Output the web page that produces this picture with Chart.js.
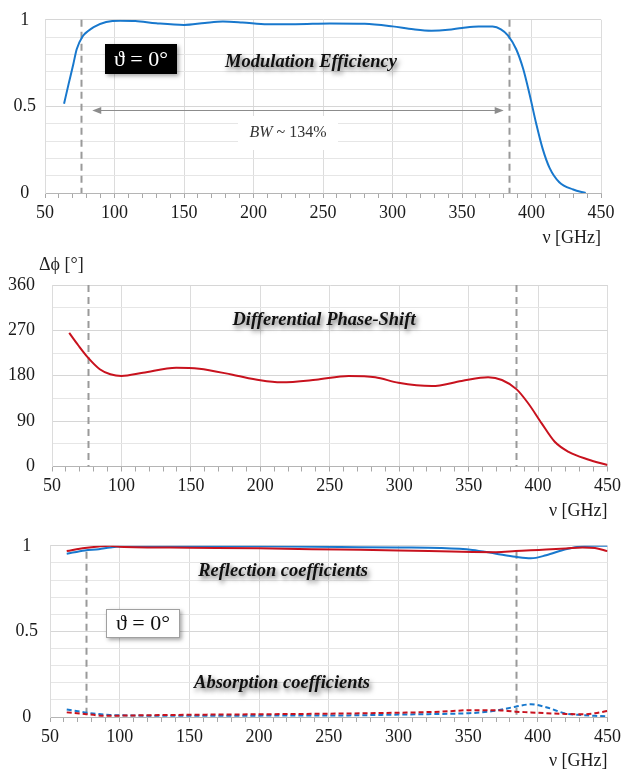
<!DOCTYPE html>
<html>
<head>
<meta charset="utf-8">
<script src="https://cdn.jsdelivr.net/npm/chart.js@4/dist/chart.umd.min.js"></script>
<style>
  html, body { margin: 0; padding: 0; background: #fff; }
  .panel { position: absolute; left: 0; width: 625px; }
</style>
</head>
<body>
<div class="panel" style="top:0;height:250px"><canvas id="effChart"></canvas></div>
<div class="panel" style="top:250px;height:273px"><canvas id="phaseChart"></canvas></div>
<div class="panel" style="top:523px;height:250px"><canvas id="coefChart"></canvas></div>
<script>
// modulation efficiency (top panel)
const effFreq = [63.7, 67, 70.4, 72.8, 77, 81, 85, 94, 104, 115, 130, 150, 165, 178, 192, 210, 230, 255, 280, 300,
  315, 328, 340, 350, 362, 372, 378, 383, 389, 394, 398.6, 403.4, 408, 413, 420, 430, 439];
const effValues = [0.515, 0.63, 0.745, 0.83, 0.904, 0.935, 0.958, 0.987, 0.995, 0.993, 0.98, 0.97, 0.982, 0.99, 0.985,
  0.975, 0.975, 0.979, 0.977, 0.962, 0.945, 0.937, 0.942, 0.953, 0.962, 0.961, 0.945, 0.91, 0.83, 0.717, 0.57, 0.40,
  0.256, 0.145, 0.062, 0.02, 0.0];

// differential phase shift (middle panel)
const phaseFreq = [62.4, 69, 75.6, 84.4, 92, 100, 115.5, 139.5, 156, 180, 200, 215, 240, 263.6, 282.8, 299.5, 323.5,
  345, 364, 374, 384.6, 393, 402.6, 412, 422, 436, 450];
const phaseValues = [265, 240, 217, 193, 183, 179.5, 186, 196, 194, 182, 171, 167, 172, 179.5, 177, 166, 159.6, 169.6,
  177, 171.6, 153, 125, 85.6, 49, 29, 14, 3];

// reflection / absorption coefficients (bottom panel)
const coefFreq = [62, 75, 85, 93, 100, 150, 200, 258, 300, 330, 353, 370, 384, 395, 406, 420, 432, 441, 450];
const reflRed = [0.969, 0.987, 0.996, 1.0, 0.995, 0.989, 0.985, 0.978, 0.973, 0.968, 0.964, 0.963, 0.969, 0.974, 0.978,
  0.984, 0.99, 0.987, 0.969];
const reflBlue = [0.954, 0.973, 0.98, 0.99, 0.996, 0.998, 0.997, 0.993, 0.99, 0.987, 0.976, 0.954, 0.936, 0.927, 0.945,
  0.98, 0.998, 1.0, 1.0];
const absRed = [0.027, 0.018, 0.009, 0.007, 0.008, 0.013, 0.016, 0.02, 0.025, 0.031, 0.04, 0.04, 0.031, 0.027, 0.022,
  0.018, 0.016, 0.022, 0.036];
const absBlue = [0.044, 0.027, 0.017, 0.012, 0.01, 0.007, 0.008, 0.009, 0.014, 0.018, 0.023, 0.037, 0.06, 0.074, 0.057,
  0.02, 0.011, 0.007, 0.003];

// band edges and bandwidth arrow
const bandEdges = [76, 384];
const bwArrow = { from: 84, to: 380, at: 0.48 };

const SERIF = "'Liberation Serif', 'Times New Roman', serif";
const RED = "rgb(200, 18, 30)";
const BLUE = "rgb(24, 120, 205)";

const points = (xs, ys) => xs.map((x, i) => ({ x: x, y: ys[i] }));

const overlays = {
  id: "overlays",
  beforeDatasetsDraw(chart, args, opts) {
    const { ctx, chartArea: a, scales: { x, y } } = chart;
    ctx.save();
    ctx.strokeStyle = "#9a9a9a";
    ctx.lineWidth = 2;
    ctx.setLineDash([7, 5]);
    bandEdges.forEach((f) => {
      const px = Math.round(x.getPixelForValue(f)) + 0.5;
      ctx.beginPath();
      ctx.moveTo(px, a.top + (opts.edgeInset || 0));
      ctx.lineTo(px, a.bottom);
      ctx.stroke();
    });
    ctx.setLineDash([]);

    if (opts.arrow) {
      const x1 = x.getPixelForValue(bwArrow.from);
      const x2 = x.getPixelForValue(bwArrow.to);
      const py = Math.round(y.getPixelForValue(bwArrow.at)) + 0.5;
      ctx.strokeStyle = "#8c8c8c";
      ctx.fillStyle = "#8c8c8c";
      ctx.lineWidth = 1;
      ctx.beginPath();
      ctx.moveTo(x1 + 4, py);
      ctx.lineTo(x2 - 4, py);
      ctx.stroke();
      [[x1, 1], [x2, -1]].forEach(([tip, dir]) => {
        ctx.beginPath();
        ctx.moveTo(tip, py);
        ctx.lineTo(tip + dir * 9, py - 3.5);
        ctx.lineTo(tip + dir * 9, py + 3.5);
        ctx.closePath();
        ctx.fill();
      });
    }

    if (opts.bwLabel) {
      const b = opts.bwLabel;
      ctx.fillStyle = "#fff";
      ctx.fillRect(b.x - 50, b.y - 17, 100, 34);
      ctx.fillStyle = "#333";
      ctx.textBaseline = "middle";
      ctx.font = "italic 16px " + SERIF;
      const w1 = ctx.measureText("BW").width;
      ctx.font = "16px " + SERIF;
      const w2 = ctx.measureText(" ~ 134%").width;
      let sx = b.x - (w1 + w2) / 2;
      ctx.textAlign = "left";
      ctx.font = "italic 16px " + SERIF;
      ctx.fillText("BW", sx, b.y);
      ctx.font = "16px " + SERIF;
      ctx.fillText(" ~ 134%", sx + w1, b.y);
    }
    ctx.restore();
  },
  afterDatasetsDraw(chart, args, opts) {
    const { ctx } = chart;
    ctx.save();
    ctx.textAlign = "center";
    ctx.textBaseline = "middle";
    (opts.titles || []).forEach((t) => {
      ctx.font = "bold italic 18.5px " + SERIF;
      ctx.shadowColor = "rgba(0,0,0,0.6)";
      ctx.shadowBlur = 5;
      ctx.shadowOffsetX = 2;
      ctx.shadowOffsetY = 3;
      ctx.fillStyle = "#111";
      ctx.fillText(t.text, t.x, t.y);
    });
    ctx.shadowColor = "transparent";

    if (opts.angleBox) {
      const b = opts.angleBox;
      ctx.shadowColor = "rgba(0,0,0,0.35)";
      ctx.shadowBlur = 4;
      ctx.shadowOffsetX = 2;
      ctx.shadowOffsetY = 2;
      ctx.fillStyle = b.dark ? "#000" : "#fff";
      ctx.fillRect(b.x, b.y, b.w, b.h);
      ctx.shadowColor = "transparent";
      if (!b.dark) {
        ctx.strokeStyle = "#a0a0a0";
        ctx.lineWidth = 1;
        ctx.strokeRect(b.x + 0.5, b.y + 0.5, b.w - 1, b.h - 1);
      }
      ctx.fillStyle = b.dark ? "#fff" : "#111";
      ctx.font = "22px " + SERIF;
      ctx.fillText("\u03D1 = 0\u00B0", b.x + b.w / 2, b.y + b.h / 2 + 1);
    }

    if (opts.yLabel) {
      ctx.textAlign = "left";
      ctx.font = "18px " + SERIF;
      ctx.fillStyle = "#222";
      ctx.fillText(opts.yLabel.text, opts.yLabel.x, opts.yLabel.y);
    }
    ctx.restore();
  },
};

function xScale(axisHeight) {
  return {
    type: "linear",
    min: 50,
    max: 450,
    afterFit: (s) => { s.height = axisHeight; },
    ticks: {
      stepSize: 10,
      autoSkip: false,
      maxRotation: 0,
      padding: 4,
      color: "#1a1a1a",
      font: { family: SERIF, size: 18 },
      callback: (v) => (v % 50 === 0 ? String(v) : ""),
    },
    grid: {
      color: (c) => (c.tick && c.tick.value % 50 === 0 ? "#dcdcdc" : "transparent"),
      tickColor: "#a8a8a8",
      tickLength: 5,
    },
    border: { color: "#b5b5b5" },
    title: {
      display: true,
      text: "\u03BD [GHz]",
      align: "end",
      color: "#1a1a1a",
      font: { family: SERIF, size: 18 },
      padding: { top: 0, bottom: 1 },
    },
  };
}

function yScale(width, max, step, labels, align, pad) {
  return {
    min: 0,
    max: max,
    afterFit: (s) => { s.width = width; },
    ticks: {
      stepSize: step,
      autoSkip: false,
      crossAlign: align,
      padding: pad,
      color: "#1a1a1a",
      font: { family: SERIF, size: 18 },
      callback: (v) => {
        const hit = labels.find((l) => Math.abs(l - v) < 1e-6);
        return hit === undefined ? "" : String(hit);
      },
    },
    grid: {
      drawTicks: false,
      color: (c) => (c.tick && labels.some((l) => Math.abs(l - c.tick.value) < 1e-6) ? "#d6d6d6" : "#e6e6e6"),
    },
    border: { color: "#dcdcdc" },
  };
}

function baseOptions(padding, xs, ys, overlayOpts) {
  return {
    responsive: true,
    maintainAspectRatio: false,
    animation: false,
    layout: { padding: padding },
    elements: { point: { radius: 0 } },
    plugins: {
      legend: { display: false },
      tooltip: { enabled: false },
      overlays: overlayOpts,
    },
    scales: { x: xs, y: ys },
  };
}

const line = (data, color, dash) => ({
  data: data,
  borderColor: color,
  borderWidth: 2,
  borderDash: dash || [],
  cubicInterpolationMode: "monotone",
  fill: false,
});

new Chart(document.getElementById("effChart"), {
  type: "line",
  data: { datasets: [line(points(effFreq, effValues), BLUE)] },
  options: baseOptions(
    { top: 12, right: 24, left: 0, bottom: 0 },
    xScale(57),
    yScale(45, 1, 0.1, [0, 0.5, 1], "center", 9),
    {
      arrow: true,
      bwLabel: { x: 288, y: 133 },
      titles: [{ text: "Modulation Efficiency", x: 311, y: 62 }],
      angleBox: { x: 105, y: 44, w: 72, h: 30, dark: true },
    }
  ),
  plugins: [overlays],
});

new Chart(document.getElementById("phaseChart"), {
  type: "line",
  data: { datasets: [line(points(phaseFreq, phaseValues), RED)] },
  options: baseOptions(
    { top: 35, right: 15.5, left: 0, bottom: 0 },
    xScale(56.5),
    yScale(52, 360, 45, [0, 90, 180, 270, 360], "near", 17),
    {
      titles: [{ text: "Differential Phase-Shift", x: 324, y: 70 }],
      yLabel: { text: "\u0394\u03D5 [\u00B0]", x: 39, y: 15 },
    }
  ),
  plugins: [overlays],
});

new Chart(document.getElementById("coefChart"), {
  type: "line",
  data: {
    datasets: [
      line(points(coefFreq, reflRed), RED),
      line(points(coefFreq, reflBlue), BLUE),
      line(points(coefFreq, absRed), RED, [5, 3]),
      line(points(coefFreq, absBlue), BLUE, [5, 3]),
    ],
  },
  options: baseOptions(
    { top: 12, right: 15.5, left: 0, bottom: 0 },
    xScale(56),
    yScale(50, 1, 0.1, [0, 0.5, 1], "center", 12),
    {
      edgeInset: 6,
      titles: [
        { text: "Reflection coefficients", x: 283, y: 48 },
        { text: "Absorption coefficients", x: 282, y: 160 },
      ],
      angleBox: { x: 106, y: 86, w: 74, h: 29, dark: false },
    }
  ),
  plugins: [overlays],
});
</script>
</body>
</html>
